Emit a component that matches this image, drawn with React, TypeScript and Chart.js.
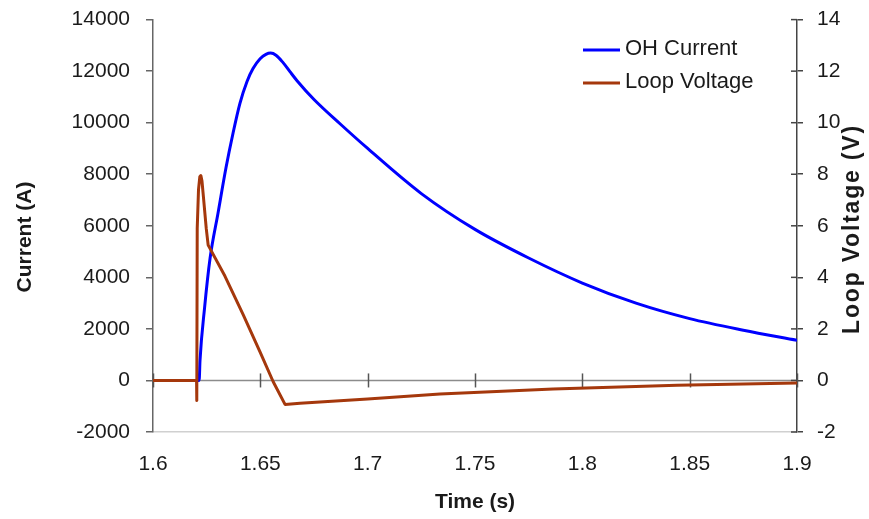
import React, { useEffect, useRef } from "react";
import { Chart, registerables } from "chart.js";

Chart.register(...registerables);

// OH Current (A) vs time (s)
const currentTime = [
  1.6, 1.6215, 1.6219, 1.624, 1.6266, 1.6303, 1.634, 1.6373, 1.6405, 1.6438,
  1.6466, 1.6499, 1.6526, 1.6548, 1.6573, 1.6606, 1.6638, 1.6671, 1.675, 1.6875,
  1.7, 1.725, 1.75, 1.775, 1.8, 1.825, 1.85, 1.875, 1.9,
];
const currentValues = [
  0, 0, 780, 2800, 4750, 6500, 8250, 9600, 10750, 11600,
  12100, 12480, 12650, 12700, 12620, 12330, 11980, 11630, 10900, 9930,
  9000, 7250, 5860, 4750, 3780, 3000, 2400, 1950, 1560,
];

// Loop Voltage (V) vs time (s)
const voltageTime = [
  1.6, 1.6203, 1.6204, 1.6206, 1.6212, 1.6218, 1.6223, 1.6228, 1.6233, 1.6248,
  1.6257, 1.6335, 1.642, 1.6499, 1.656, 1.6615, 1.6685, 1.7, 1.7337, 1.7864,
  1.8441, 1.9,
];
const voltageValues = [
  0, 0, -0.78, 5.9, 7.4, 7.9, 7.95, 7.75, 7.3, 5.9,
  5.25, 4.05, 2.55, 1.1, -0.05, -0.93, -0.88, -0.72, -0.53, -0.33,
  -0.19, -0.1,
];

const xTicksMin = 1.6;
const xTicksMax = 1.9;
const xStep = 0.05;
const yLeftMin = -2000;
const yLeftMax = 14000;
const yLeftStep = 2000;
const yRightMin = -2;
const yRightMax = 14;
const yRightStep = 2;

const seriesLabels = ["OH Current", "Loop Voltage"];
const seriesColors = ["#0000ff", "#a5380c"];
const titles = { x: "Time (s)", yLeft: "Current (A)", yRight: "Loop Voltage (V)" };

const FONT = "'Liberation Sans', Arial, Helvetica, sans-serif";
const SHIFT = 9; // canvas is drawn 9px above the page top
const CANVAS_W = 869;
const CANVAS_H = 519 + SHIFT;

const overlayPlugin = {
  id: "overlay",
  beforeDatasetsDraw(chart: any) {
    const { ctx, chartArea, scales } = chart;
    const x = scales.x;
    const y = scales.y;
    const y1 = scales.y1;
    const y0 = y.getPixelForValue(0);
    ctx.save();
    ctx.lineWidth = 1.5;
    ctx.strokeStyle = "#8c8c8c";
    ctx.beginPath();
    ctx.moveTo(chartArea.left, y0);
    ctx.lineTo(chartArea.right, y0);
    ctx.stroke();
    ctx.strokeStyle = "#555555";
    x.ticks.forEach((t: any) => {
      const px = Math.round(x.getPixelForValue(t.value)) + 0.5;
      ctx.beginPath();
      ctx.moveTo(px, y0 - 7);
      ctx.lineTo(px, y0 + 7);
      ctx.stroke();
    });
    ctx.strokeStyle = "#444444";
    y1.ticks.forEach((t: any) => {
      const py = y1.getPixelForValue(t.value);
      ctx.beginPath();
      ctx.moveTo(chartArea.right - 6, py);
      ctx.lineTo(chartArea.right, py);
      ctx.stroke();
    });
    ctx.restore();
  },
  afterDraw(chart: any) {
    const { ctx, chartArea } = chart;
    ctx.save();
    ctx.fillStyle = "#1a1a1a";
    ctx.font = `bold 21px ${FONT}`;
    ctx.textAlign = "center";
    ctx.textBaseline = "middle";
    // x title
    ctx.fillText(titles.x, (chartArea.left + chartArea.right) / 2, 502 + SHIFT);
    // left title
    ctx.save();
    ctx.translate(25, 237 + SHIFT);
    ctx.rotate(-Math.PI / 2);
    ctx.fillText(titles.yLeft, 0, 0);
    ctx.restore();
    // right title
    ctx.save();
    ctx.translate(853, 229 + SHIFT);
    ctx.rotate(-Math.PI / 2);
    ctx.font = `bold 23px ${FONT}`;
    try {
      (ctx as any).letterSpacing = "1.8px";
    } catch (e) {}
    ctx.fillText(titles.yRight, 0, 0);
    try {
      (ctx as any).letterSpacing = "0px";
    } catch (e) {}
    ctx.restore();

    // legend
    ctx.font = `22px ${FONT}`;
    ctx.textAlign = "left";
    const rows = [49 + SHIFT, 82 + SHIFT];
    chart.data.datasets.forEach((ds: any, i: number) => {
      const yy = rows[i];
      ctx.strokeStyle = ds.borderColor;
      ctx.lineWidth = 3;
      ctx.beginPath();
      ctx.moveTo(583, yy + 1);
      ctx.lineTo(620, yy + 1);
      ctx.stroke();
      ctx.fillStyle = "#1a1a1a";
      ctx.fillText(ds.label, 625, yy);
    });
    ctx.restore();
  },
};

export default function App() {
  const canvasRef = useRef<HTMLCanvasElement | null>(null);

  useEffect(() => {
    if (!canvasRef.current) return;
    Chart.defaults.font.family = FONT;
    const chart = new Chart(canvasRef.current, {
      type: "line",
      data: {
        datasets: [
          {
            label: seriesLabels[0],
            data: currentTime.map((t, i) => ({ x: t, y: currentValues[i] })),
            borderColor: seriesColors[0],
            backgroundColor: seriesColors[0],
            borderWidth: 3,
            pointRadius: 0,
            cubicInterpolationMode: "monotone",
            borderJoinStyle: "round",
            yAxisID: "y",
            order: 2,
          },
          {
            label: seriesLabels[1],
            data: voltageTime.map((t, i) => ({ x: t, y: voltageValues[i] })),
            borderColor: seriesColors[1],
            backgroundColor: seriesColors[1],
            borderWidth: 3,
            pointRadius: 0,
            tension: 0,
            borderJoinStyle: "round",
            yAxisID: "y1",
            order: 1,
          },
        ],
      },
      options: {
        responsive: false,
        animation: false,
        layout: { padding: { top: 10, left: 0, right: 0, bottom: 0 } },
        plugins: {
          legend: { display: false },
          tooltip: { enabled: false },
        },
        scales: {
          x: {
            type: "linear",
            min: xTicksMin,
            max: xTicksMax,
            ticks: {
              stepSize: xStep,
              color: "#1a1a1a",
              font: { size: 21 },
              padding: 20,
              callback: (v: any) => String(parseFloat(Number(v).toFixed(2))),
            },
            grid: { display: true, drawOnChartArea: false, drawTicks: false },
            border: { display: true, color: "#d0d0d0", width: 1.5 },
            afterFit: (s: any) => {
              s.height = 87;
            },
          },
          y: {
            type: "linear",
            position: "left",
            min: yLeftMin,
            max: yLeftMax,
            ticks: {
              stepSize: yLeftStep,
              color: "#1a1a1a",
              font: { size: 21 },
              padding: 16,
              callback: (v: any) => String(Math.round(Number(v))),
            },
            grid: {
              drawOnChartArea: false,
              drawTicks: true,
              tickLength: 7,
              color: "#666666",
              lineWidth: 1.5,
            },
            border: { display: true, color: "#666666", width: 1.5 },
            afterFit: (s: any) => {
              s.width = 153;
            },
          },
          y1: {
            type: "linear",
            position: "right",
            min: yRightMin,
            max: yRightMax,
            ticks: {
              stepSize: yRightStep,
              color: "#1a1a1a",
              font: { size: 21 },
              padding: 14,
            },
            grid: {
              drawOnChartArea: false,
              drawTicks: true,
              tickLength: 6,
              color: "#444444",
              lineWidth: 1.5,
            },
            border: { display: true, color: "#444444", width: 1.5 },
            afterFit: (s: any) => {
              s.width = 72;
            },
          },
        },
      },
      plugins: [overlayPlugin],
    });
    return () => chart.destroy();
  }, []);

  return (
    <div
      style={{
        position: "absolute",
        left: 0,
        top: 0,
        width: 869,
        height: 519,
        overflow: "hidden",
        background: "#fff",
      }}
    >
      <canvas
        ref={canvasRef}
        width={CANVAS_W}
        height={CANVAS_H}
        style={{ display: "block", position: "absolute", left: 0, top: -SHIFT }}
      />
    </div>
  );
}
